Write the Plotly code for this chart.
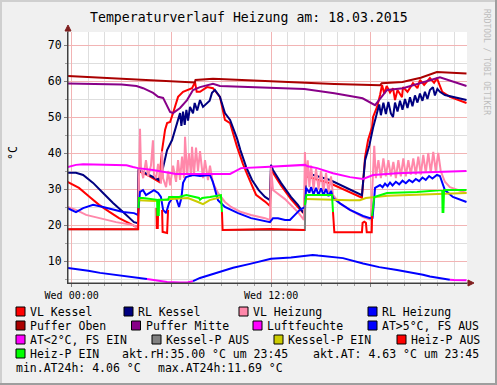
import plotly.graph_objects as go

# ---------------- data (time in hours of 18.03.2015, values in °C / %) ----------------
VL_KESSEL = [(-0.25, 32.0), (0.44, 30.3), (1.05, 27.9), (1.65, 25.6), (2.25, 23.7), (2.85, 21.9),
             (3.45, 20.5), (3.87, 19.5), (3.99, 19.5), (4.03, 35.0), (4.6, 33.8), (5.26, 32.0),
             (5.44, 40.8), (5.62, 46.5), (5.74, 48.3), (5.92, 48.6), (6.1, 51.1), (6.4, 55.6),
             (6.7, 57.0), (6.9, 57.3), (7.24, 58.0), (7.42, 59.7), (7.52, 57.0), (7.72, 57.0),
             (8.14, 58.3), (8.5, 58.0), (8.92, 55.6), (9.22, 49.2), (9.53, 48.3), (9.95, 41.7),
             (10.3, 37.0), (10.61, 33.5), (11.09, 28.4), (11.63, 26.5), (11.93, 25.3), (11.99, 35.5),
             (12.11, 34.5), (12.59, 31.0), (13.19, 27.2), (13.61, 25.0), (13.97, 23.2), (14.09, 33.5),
             (15.54, 31.6), (17.46, 27.6), (17.65, 38.9), (17.83, 43.6), (18.07, 47.2), (18.13, 50.0),
             (18.37, 52.8), (18.55, 56.1), (18.67, 58.9), (18.8, 56.5), (18.95, 58.6), (19.15, 56.8),
             (19.33, 58.0), (19.45, 54.7), (19.6, 57.5), (19.87, 55.5), (19.93, 58.3), (20.2, 57.0),
             (20.53, 59.4), (20.8, 58.0), (20.95, 60.3), (21.2, 58.9), (21.55, 60.8), (21.8, 59.5),
             (21.97, 60.8), (22.29, 57.0), (22.75, 55.6), (23.75, 53.9)]

RL_KESSEL = [(-0.25, 34.5), (0.26, 34.5), (0.69, 33.9), (1.29, 31.7), (1.89, 28.9), (2.49, 26.1),
             (3.09, 23.6), (3.75, 20.8), (3.99, 20.5), (4.03, 35.3), (5.26, 32.5), (5.5, 36.0),
             (5.74, 40.8), (6.04, 43.6), (6.34, 48.3), (6.52, 51.1), (6.6, 47.5), (6.7, 51.5),
             (6.8, 47.8), (6.9, 52.0), (7.0, 49.0), (7.12, 52.8), (7.3, 51.0), (7.4, 53.9),
             (7.55, 51.8), (7.72, 54.7), (7.9, 52.8), (8.14, 53.9), (8.3, 54.5), (8.44, 56.7),
             (8.62, 57.5), (8.92, 55.6), (9.22, 51.1), (9.53, 49.2), (9.95, 44.0), (10.15, 40.8),
             (10.5, 36.1), (10.85, 32.5), (11.25, 29.7), (11.63, 27.8), (11.93, 26.9), (11.99, 36.7),
             (12.11, 35.3), (12.59, 31.7), (13.19, 27.8), (13.61, 25.6), (13.91, 23.6), (14.03, 23.5),
             (14.09, 34.5), (15.54, 32.5), (17.46, 28.3), (17.65, 38.0), (17.9, 42.0), (18.13, 47.0),
             (18.5, 53.5), (18.6, 50.5), (18.75, 54.0), (18.9, 50.8), (19.05, 54.2), (19.2, 51.0),
             (19.33, 50.0), (19.45, 54.0), (19.6, 51.5), (19.75, 54.5), (19.9, 52.0), (20.05, 55.0),
             (20.2, 52.5), (20.35, 55.5), (20.5, 53.0), (20.65, 56.0), (20.8, 54.0), (20.95, 56.5),
             (21.1, 54.5), (21.25, 57.0), (21.4, 55.0), (21.55, 57.5), (21.73, 58.3), (21.85, 56.0),
             (22.0, 57.8), (22.15, 57.0), (22.45, 56.1), (23.75, 54.7)]

VL_HEIZUNG = [(-0.25, 25.0), (0.26, 24.2), (0.87, 22.8), (1.65, 21.9), (2.67, 20.8), (3.69, 20.0),
              (3.87, 19.4), (3.99, 19.4), (4.05, 36.0), (4.11, 46.7), (4.17, 36.0), (4.3, 33.0),
              (4.47, 38.0), (4.6, 33.5), (4.77, 36.5), (4.89, 43.5), (4.95, 34.0), (5.08, 33.0),
              (5.2, 37.0), (5.37, 31.5), (5.44, 40.5), (5.5, 33.0), (5.68, 30.5), (5.8, 35.0),
              (5.92, 31.0), (6.1, 36.5), (6.28, 32.0), (6.4, 38.0), (6.52, 32.5), (6.64, 39.0),
              (6.76, 33.0), (6.82, 44.5), (6.94, 34.0), (7.06, 40.0), (7.18, 33.5), (7.24, 41.7),
              (7.36, 34.0), (7.48, 41.5), (7.6, 35.0), (7.72, 40.5), (7.9, 33.0), (8.02, 38.0),
              (8.2, 32.5), (8.32, 36.5), (8.5, 31.7), (8.8, 28.9), (9.22, 26.4), (9.59, 25.0),
              (10.19, 23.6), (10.79, 22.8), (11.63, 21.9), (11.93, 21.4), (11.99, 36.0), (12.11, 29.7),
              (12.83, 27.2), (13.61, 23.6), (13.97, 21.4), (14.03, 40.3), (14.1, 31.0), (14.2, 38.0),
              (14.3, 30.5), (14.4, 36.5), (14.55, 30.0), (14.7, 35.5), (14.85, 30.0), (15.0, 35.0),
              (15.15, 29.5), (15.3, 34.5), (15.45, 29.0), (15.6, 33.5), (15.72, 28.3), (16.14, 26.0),
              (16.74, 24.2), (17.53, 22.2), (18.0, 21.4), (18.2, 42.0), (18.3, 33.0), (18.45, 38.0),
              (18.6, 33.0), (18.75, 38.5), (18.9, 33.5), (19.05, 38.0), (19.2, 33.5), (19.35, 37.5),
              (19.5, 33.0), (19.65, 38.0), (19.8, 33.5), (19.95, 38.5), (20.1, 33.5), (20.25, 38.0),
              (20.4, 34.0), (20.55, 38.5), (20.7, 34.0), (20.85, 39.0), (21.0, 34.0), (21.15, 39.5),
              (21.3, 34.5), (21.45, 40.0), (21.6, 34.5), (21.75, 40.3), (21.9, 35.0), (22.05, 40.0),
              (22.2, 35.0), (22.45, 32.0), (22.75, 30.5), (23.75, 28.9)]

RL_HEIZUNG = [(-0.25, 24.7), (0.26, 23.6), (0.69, 24.7), (1.29, 25.6), (1.89, 25.0), (2.49, 24.2),
              (3.09, 23.6), (3.75, 23.3), (3.99, 22.8), (4.11, 29.2), (4.29, 29.7), (4.47, 28.3),
              (4.77, 29.2), (4.95, 29.7), (5.2, 28.9), (5.37, 27.8), (5.5, 24.2), (5.68, 23.3),
              (5.86, 26.1), (6.1, 27.8), (6.28, 27.5), (6.46, 25.0), (6.6, 27.5), (6.7, 31.7),
              (6.88, 33.3), (7.3, 33.9), (7.72, 33.6), (8.32, 33.9), (8.5, 31.9), (8.8, 26.9),
              (9.22, 25.0), (10.01, 23.3), (10.79, 21.9), (11.63, 21.1), (11.93, 20.8), (12.11, 21.9),
              (12.41, 21.9), (12.83, 21.4), (13.13, 21.4), (13.43, 22.8), (13.73, 24.2), (14.03, 25.0),
              (14.1, 30.3), (14.3, 29.0), (14.4, 30.5), (14.55, 28.5), (14.7, 30.3), (14.85, 28.3),
              (15.0, 30.2), (15.15, 28.3), (15.3, 30.0), (15.45, 28.0), (15.6, 29.5), (15.72, 27.5),
              (16.14, 26.0), (16.74, 24.2), (17.53, 22.5), (17.95, 21.9), (18.1, 22.0), (18.25, 30.3),
              (18.55, 31.1), (18.7, 30.5), (18.85, 31.5), (19.0, 30.8), (19.15, 31.8), (19.3, 31.0),
              (19.5, 32.0), (19.7, 31.3), (19.9, 32.3), (20.1, 31.6), (20.3, 32.5), (20.5, 31.9),
              (20.7, 32.8), (20.9, 32.2), (21.1, 33.2), (21.3, 32.5), (21.5, 33.6), (21.7, 32.9),
              (21.97, 33.9), (22.15, 33.6), (22.45, 29.7), (22.93, 27.8), (23.75, 26.4)]

PUFFER_OBEN = [(-0.25, 61.4), (7.40, 59.6), (7.45, 60.3), (8.5, 60.6), (15.8, 59.2), (18.55, 58.8),
               (18.65, 59.4), (19.9, 59.7), (20.6, 60.5), (21.0, 60.9), (21.97, 62.5), (23.75, 62.1)]

PUFFER_MITTE = [(-0.25, 59.3), (3.0, 59.0), (3.9, 58.6), (4.3, 58.0), (4.9, 56.7), (5.2, 55.6),
                (5.5, 55.3), (5.74, 52.8), (5.92, 51.4), (6.1, 51.1), (6.52, 52.5), (6.94, 54.7),
                (7.3, 57.5), (7.72, 58.3), (8.5, 59.2), (8.92, 58.6), (10.0, 58.4), (14.0, 57.8),
                (15.8, 56.6), (17.5, 55.2), (18.25, 53.3), (18.97, 57.5), (19.93, 58.0), (22.15, 61.0),
                (23.75, 58.6)]

LUFTFEUCHTE = [(-0.25, 36.1), (0.26, 36.7), (0.69, 36.9), (3.3, 36.6), (3.69, 36.1), (3.99, 35.8),
               (4.89, 35.3), (5.68, 34.7), (6.28, 34.2), (9.53, 34.2), (9.83, 35.0), (10.19, 35.8),
               (11.63, 36.1), (13.61, 36.7), (14.03, 36.7), (14.2, 36.3), (14.76, 35.8), (15.72, 34.4),
               (16.74, 33.3), (17.53, 32.8), (17.7, 33.1), (18.13, 33.9), (19.57, 34.4), (22.15, 34.7),
               (23.75, 35.0)]

AUSSENTEMP = [(-0.25, 8.1), (0.3, 7.8), (1.0, 7.3), (1.71, 6.7), (2.5, 6.2), (3.69, 5.6), (4.53, 5.0),
              (5.2, 4.6), (5.74, 4.2), (6.52, 4.06), (7.0, 4.1), (7.3, 4.4), (7.72, 5.3), (8.5, 6.4),
              (9.71, 8.1), (10.73, 9.2), (11.63, 10.3), (11.99, 10.6), (13.19, 11.0), (14.03, 11.4),
              (14.5, 11.69), (14.82, 11.5), (15.5, 11.1), (16.32, 10.8), (17.53, 9.3), (18.5, 8.3),
              (19.57, 7.5), (20.5, 6.8), (21.13, 6.2), (21.55, 5.7), (22.33, 5.1), (22.75, 4.8),
              (23.0, 4.7), (23.75, 4.63)]
FS_EIN_INTERVALS = [(4.53, 7.3), (22.75, 23.75)]   # frost protection on (magenta)

KESSEL_P_AUS = [(-0.25, 18.8), (4.0, 18.8), None, (9.1, 18.6), (14.03, 18.6), (14.05, 27.2)]

KESSEL_P_EIN = [(4.05, 26.9), (5.0, 26.7), (6.0, 27.2), (7.0, 27.5), (7.6, 26.4), (7.9, 25.8),
                (8.3, 26.9), (8.8, 27.5), (9.0, 27.8), None,
                (14.09, 27.2), (14.76, 27.2), (15.72, 27.0), (16.74, 26.9), (17.34, 26.9), (17.7, 27.5),
                (18.25, 27.8), (19.0, 28.1), (23.75, 28.9)]

HEIZ_P_AUS = [(-0.25, 18.8), (4.0, 18.8), (4.02, 24.7), None,
              (5.1, 24.7), (5.12, 19.2), (5.18, 19.2), (5.2, 24.2), None,
              (5.44, 24.2), (5.47, 18.1), (5.74, 17.8), (5.8, 24.2), None,
              (9.04, 23.6), (9.08, 18.6), (11.99, 18.9), (14.03, 18.6), None,
              (15.72, 23.6), (15.8, 18.0), (17.46, 18.0), (17.5, 20.6), (17.6, 20.9), (17.7, 20.6),
              (17.75, 18.0), (18.05, 18.0), (18.07, 22.5)]

HEIZ_P_EIN = [(4.02, 24.7), (4.05, 27.5), (4.29, 27.5), (4.89, 27.0), (5.14, 27.0), (5.16, 22.8),
              (5.24, 22.8), (5.26, 27.0), (5.8, 27.0), (5.86, 27.8), (6.46, 27.8), (6.9, 28.3),
              (7.3, 27.8), (7.66, 27.5), (7.72, 27.0), (7.85, 27.5), (8.32, 27.8), (8.92, 28.3),
              (8.98, 28.3), (9.04, 23.6), None,
              (14.03, 25.6), (14.12, 28.3), (15.66, 28.3), (15.72, 23.6), None,
              (18.07, 22.5), (18.2, 27.8), (18.97, 28.9), (20.77, 29.2), (22.29, 29.7), (22.31, 23.6),
              (22.36, 23.6), (22.4, 29.7), (23.75, 29.7)]

LEGEND_ROWS = [
    [("VL Kessel", "#ff0000"), ("RL Kessel", "#000080"), ("VL Heizung", "#ff88aa"), ("RL Heizung", "#0000ff")],
    [("Puffer Oben", "#aa0000"), ("Puffer Mitte", "#880088"), ("Luftfeuchte", "#ff00ff"), ("AT&gt;5°C, FS AUS", "#0000ff")],
    [("AT&lt;2°C, FS EIN", "#ff00ff"), ("Kessel-P AUS", "#808080"), ("Kessel-P EIN", "#cccc00"), ("Heiz-P AUS", "#ff0000")],
    [("Heiz-P EIN", "#00ff00")],
]
INFO_TEXTS = ["akt.rH:35.00 °C um 23:45", "akt.AT: 4.63 °C um 23:45",
              "min.AT24h: 4.06 °C", "max.AT24h:11.69 °C"]
TITLE = "Temperaturverlauf Heizung am: 18.03.2015"
X_TICKS = [0, 6, 12, 18]
X_TICKTEXT = ["Wed 00:00", "", "Wed 12:00", ""]
Y_TICKS = [10, 20, 30, 40, 50, 60, 70]

# ---------------- layout helpers ----------------
W, H = 497, 385
L, R, T, B = 68, 467, 32, 283
MONO = "DejaVu Sans Mono"


def xp(px):
    return (px - L) / (R - L)


def yp(py):
    return (B - py) / (B - T)


def split(pairs):
    xs, ys = [], []
    for p in pairs:
        if p is None:
            xs.append(None); ys.append(None)
        else:
            xs.append(p[0]); ys.append(p[1])
    return xs, ys


fig = go.Figure()


def add(pairs, color, width=2):
    xs, ys = split(pairs)
    fig.add_trace(go.Scatter(x=xs, y=ys, mode="lines", line=dict(color=color, width=width),
                             hoverinfo="skip", showlegend=False, connectgaps=False))


def in_ein(t):
    return any(a <= t <= b for a, b in FS_EIN_INTERVALS)


def strictly_ein(t):
    return any(a < t < b for a, b in FS_EIN_INTERVALS) or t > FS_EIN_INTERVALS[-1][0]


at_aus = [(t, v) if not strictly_ein(t) else None for t, v in AUSSENTEMP]
at_ein = [(t, v) if in_ein(t) else None for t, v in AUSSENTEMP]

# drawing order as in the legend (rrdtool draws later items on top)
add(VL_KESSEL, "#ff0000")
add(RL_KESSEL, "#000080")
add(VL_HEIZUNG, "#ff88aa")
add(RL_HEIZUNG, "#0000ff")
add(PUFFER_OBEN, "#aa0000")
add(PUFFER_MITTE, "#880088")
add(LUFTFEUCHTE, "#ff00ff")
add(at_aus, "#0000ff")
add(at_ein, "#ff00ff")
add(KESSEL_P_AUS, "#808080")
add(KESSEL_P_EIN, "#cccc00")
add(HEIZ_P_AUS, "#ff0000")
add(HEIZ_P_EIN, "#00ff00")

shapes = []
# frame shading
shapes += [
    dict(type="rect", xref="paper", yref="paper", x0=xp(0), x1=xp(W), y0=yp(0), y1=yp(2),
         fillcolor="#cfcfcf", line=dict(width=0), layer="below"),
    dict(type="rect", xref="paper", yref="paper", x0=xp(0), x1=xp(2), y0=yp(0), y1=yp(H),
         fillcolor="#cfcfcf", line=dict(width=0), layer="below"),
    dict(type="rect", xref="paper", yref="paper", x0=xp(0), x1=xp(W), y0=yp(H - 2), y1=yp(H),
         fillcolor="#9e9e9e", line=dict(width=0), layer="below"),
    dict(type="rect", xref="paper", yref="paper", x0=xp(W - 2), x1=xp(W), y0=yp(0), y1=yp(H),
         fillcolor="#9e9e9e", line=dict(width=0), layer="below"),
]
# axis extensions and arrows
shapes += [
    dict(type="line", xref="paper", yref="paper", x0=xp(L), x1=xp(L), y0=yp(B), y1=yp(28),
         line=dict(color="#404040", width=1)),
    dict(type="line", xref="paper", yref="paper", x0=xp(L), x1=xp(471), y0=yp(B), y1=yp(B),
         line=dict(color="#404040", width=1)),
    dict(type="path", xref="paper", yref="paper",
         path=f"M {xp(L-3)},{yp(31)} L {xp(L)},{yp(25)} L {xp(L+3)},{yp(31)} Z",
         fillcolor="#801f1f", line=dict(color="#801f1f", width=1)),
    dict(type="path", xref="paper", yref="paper",
         path=f"M {xp(468)},{yp(B-3)} L {xp(474)},{yp(B)} L {xp(468)},{yp(B+3)} Z",
         fillcolor="#801f1f", line=dict(color="#801f1f", width=1)),
]

annotations = []


def text(px, py, s, size=11.5, anchor="left", color="#000000", angle=0):
    annotations.append(dict(x=xp(px), y=yp(py), xref="paper", yref="paper", text=s, showarrow=False,
                            xanchor=anchor, yanchor="middle", textangle=angle,
                            font=dict(family=MONO, size=size, color=color),
                            borderpad=0, borderwidth=0))


text(249, 17, TITLE, size=13.2, anchor="center")
text(13, 153, "°C", size=11.5, anchor="center", angle=-90)
text(487, 62, "RRDTOOL / TOBI OETIKER", size=8, anchor="center", color="#bdbdbd", angle=90)

row_y = [311.5, 325.5, 339.5, 353.5, 367.5]
box_x = [
    [16, 124, 239, 368],
    [16, 131.5, 253, 368],
    [16, 152, 274, 397],
    [16],
]
for r, row in enumerate(LEGEND_ROWS):
    for c, (label, color) in enumerate(row):
        bx = box_x[r][c]
        yc = row_y[r]
        shapes.append(dict(type="rect", xref="paper", yref="paper", x0=xp(bx), x1=xp(bx + 9),
                           y0=yp(yc - 4.5), y1=yp(yc + 4.5), fillcolor=color,
                           line=dict(color="#000000", width=1)))
        text(bx + 14, yc, label)

text(122, row_y[3], INFO_TEXTS[0])
text(313, row_y[3], INFO_TEXTS[1])
text(16, row_y[4], INFO_TEXTS[2])
text(158, row_y[4], INFO_TEXTS[3])

fig.update_layout(
    width=W, height=H,
    margin=dict(l=L, r=W - R, t=T, b=H - B, pad=0),
    paper_bgcolor="#f0f0f0", plot_bgcolor="#ffffff",
    showlegend=False,
    shapes=shapes, annotations=annotations,
    xaxis=dict(range=[-0.22, 23.78], tickmode="array", tickvals=X_TICKS, ticktext=X_TICKTEXT,
               showgrid=True, gridcolor="#f2b4b4", gridwidth=1, zeroline=False,
               showline=True, linecolor="#404040", linewidth=1,
               ticks="outside", ticklen=3, tickcolor="#808080",
               tickfont=dict(family=MONO, size=10, color="#000000"),
               minor=dict(tickmode="linear", tick0=0, dtick=1, showgrid=True, gridcolor="#dedede",
                          gridwidth=1, ticks="outside", ticklen=2, tickcolor="#a0a0a0"),
               fixedrange=True),
    yaxis=dict(range=[3.89, 73.61], tickmode="array", tickvals=Y_TICKS,
               showgrid=True, gridcolor="#f2b4b4", gridwidth=1, zeroline=False,
               showline=True, linecolor="#404040", linewidth=1,
               ticks="outside", ticklen=3, tickcolor="#808080",
               tickfont=dict(family=MONO, size=11.5, color="#000000"),
               minor=dict(tickmode="linear", tick0=5, dtick=5, showgrid=True, gridcolor="#dedede",
                          gridwidth=1, ticks="outside", ticklen=2, tickcolor="#a0a0a0"),
               fixedrange=True),
)

fig.write_html("out.html", config={"displayModeBar": False},
               post_script="document.body.style.margin='0';document.body.style.overflow='hidden';")
